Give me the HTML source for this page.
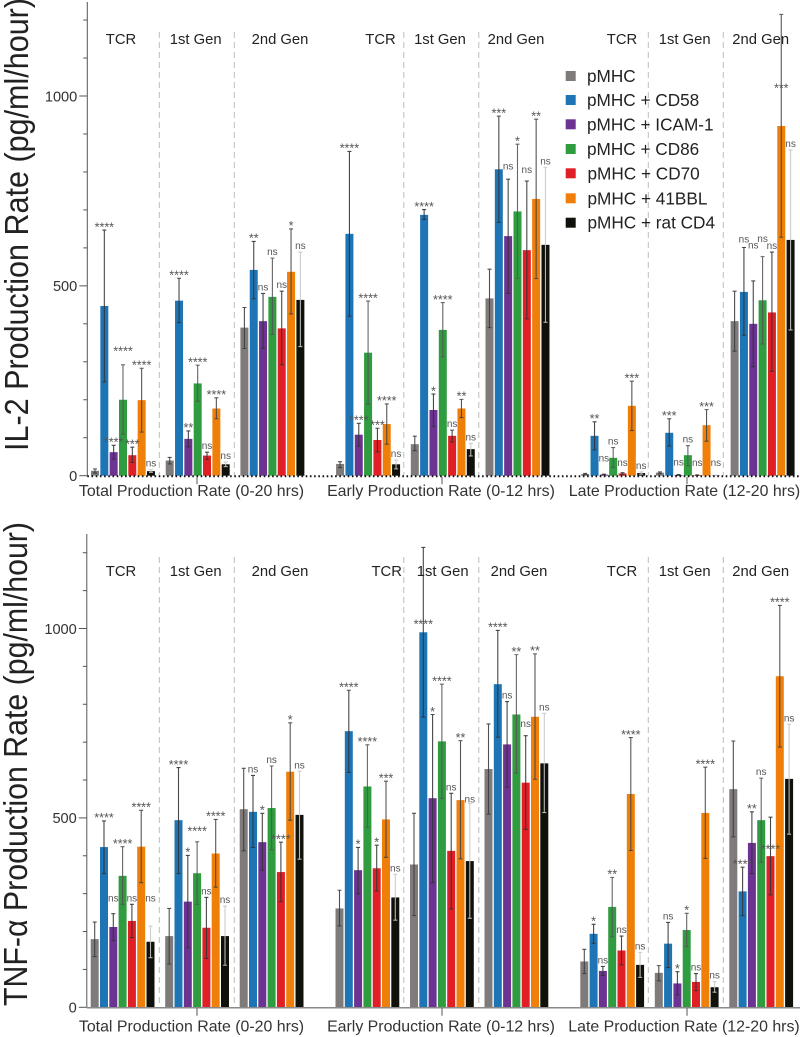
<!DOCTYPE html>
<html lang="en">
<head>
<meta charset="utf-8">
<title>IL-2 and TNF-alpha production rates</title>
<style>
html,body{margin:0;padding:0;background:#fff;}
svg{display:block;font-family:"Liberation Sans",sans-serif;}
.hdr{font-size:14.8px;fill:#222;text-anchor:middle;}
.xl{font-size:15.9px;fill:#333;text-anchor:middle;}
.leg{font-size:17.2px;fill:#222;}
.title{font-size:33px;fill:#222;}
.tick{font-size:14.6px;fill:#333;text-anchor:end;}
.sig{fill:#555;text-anchor:middle;}
</style>
</head>
<body>
<svg id="chart" xmlns="http://www.w3.org/2000/svg" width="800" height="1037" viewBox="0 0 800 1037">
  <rect x="0" y="0" width="800" height="1037" fill="#fff"/>

  <g id="il2-marks"></g>
  <g id="tnf-marks"></g>

  <text class="title" transform="translate(28,451) rotate(-90)" textLength="453" lengthAdjust="spacingAndGlyphs">IL-2 Production Rate (pg/ml/hour)</text>
  <text class="title" transform="translate(27,1006) rotate(-90)" textLength="484" lengthAdjust="spacingAndGlyphs">TNF-α Production Rate (pg/ml/hour)</text>

  <g>
    <text class="hdr" x="121" y="44">TCR</text>
    <text class="hdr" x="195.7" y="44">1st Gen</text>
    <text class="hdr" x="280" y="44">2nd Gen</text>
    <text class="hdr" x="380.5" y="44">TCR</text>
    <text class="hdr" x="440" y="44">1st Gen</text>
    <text class="hdr" x="516" y="44">2nd Gen</text>
    <text class="hdr" x="622" y="44">TCR</text>
    <text class="hdr" x="684.7" y="44">1st Gen</text>
    <text class="hdr" x="760.7" y="44">2nd Gen</text>
  </g>
  <g>
    <text class="hdr" x="121" y="576">TCR</text>
    <text class="hdr" x="195.7" y="576">1st Gen</text>
    <text class="hdr" x="280" y="576">2nd Gen</text>
    <text class="hdr" x="386.7" y="576">TCR</text>
    <text class="hdr" x="442.7" y="576">1st Gen</text>
    <text class="hdr" x="519" y="576">2nd Gen</text>
    <text class="hdr" x="622" y="576">TCR</text>
    <text class="hdr" x="684.7" y="576">1st Gen</text>
    <text class="hdr" x="760.7" y="576">2nd Gen</text>
  </g>

  <g>
    <text class="xl" x="191.5" y="496">Total Production Rate (0-20 hrs)</text>
    <text class="xl" x="441" y="496">Early Production Rate (0-12 hrs)</text>
    <text class="xl" x="684.5" y="496">Late Production Rate (12-20 hrs)</text>
  </g>
  <g>
    <text class="xl" x="191.5" y="1031.5">Total Production Rate (0-20 hrs)</text>
    <text class="xl" x="441" y="1031.5">Early Production Rate (0-12 hrs)</text>
    <text class="xl" x="684" y="1031.5">Late Production Rate (12-20 hrs)</text>
  </g>

  <g>
    <g><rect x="565.7" y="71" width="10" height="10" fill="#7f7b7b"/><text class="leg" x="587" y="82">pMHC</text></g>
    <g><rect x="565.7" y="95" width="10" height="10" fill="#1e75b6"/><text class="leg" x="587" y="106">pMHC + CD58</text></g>
    <g><rect x="565.7" y="119.3" width="10" height="10" fill="#6c3392"/><text class="leg" x="587" y="130.3">pMHC + ICAM-1</text></g>
    <g><rect x="565.7" y="144" width="10" height="10" fill="#2f9c40"/><text class="leg" x="587" y="155">pMHC + CD86</text></g>
    <g><rect x="565.7" y="168.3" width="10" height="10" fill="#e01f26"/><text class="leg" x="587.5" y="179.3">pMHC + CD70</text></g>
    <g><rect x="565.7" y="193.3" width="10" height="10" fill="#f07f09"/><text class="leg" x="587.5" y="204.3">pMHC + 41BBL</text></g>
    <g><rect x="565.7" y="217.7" width="10" height="10" fill="#11110c"/><text class="leg" x="587.5" y="228.7">pMHC + rat CD4</text></g>
  </g>
</svg>

<script>
// Series order inside every group
const seriesNames = ['pMHC','pMHC + CD58','pMHC + ICAM-1','pMHC + CD86','pMHC + CD70','pMHC + 41BBL','pMHC + rat CD4'];
const seriesColors = ['#7f7b7b','#1e75b6','#6c3392','#2f9c40','#e01f26','#f07f09','#11110c'];
const errorColors = ['#3c3c3c','#333','#333','#555','#333','#444','#c8c8c8'];
// Nine groups: Total / Early / Late x TCR, 1st Gen, 2nd Gen
const groupNames = ['Total TCR','Total 1st Gen','Total 2nd Gen','Early TCR','Early 1st Gen','Early 2nd Gen','Late TCR','Late 1st Gen','Late 2nd Gen'];
const majorTickValues = [0,500,1000];
const minorTickValues = [100,200,300,400,600,700,800,900,1100,1200];

const il2Means = [
  [13,447,62,200,54,199,12],
  [40,461,97,243,53,177,30],
  [390,542,407,471,388,537,463],
  [31,637,108,324,94,136,30],
  [83,687,173,384,105,177,70],
  [467,807,631,696,594,729,608],
  [4.5,105,3,47,6,184,7],
  [8,113,2,54,1.5,133,1],
  [407,484,400,462,430,921,621]
];
const il2ErrLow = [
  [7,247,44,109,35,115,9],
  [31,403,76,196,43,150,24],
  [335,466,335,372,292,426,340],
  [21,420,78,188,63,83,18],
  [66,675,129,313,89,153,52],
  [390,667,480,519,413,519,404],
  [3,68,2,22,3,119,4],
  [5,78,1,26,1,91,0.5],
  [328,370,287,347,275,628,384]
];
const il2ErrHigh = [
  [18,647,80,292,75,283,16],
  [48,520,118,291,62,205,36],
  [443,617,480,573,486,650,589],
  [37,854,138,460,125,189,41],
  [104,701,215,456,120,201,85],
  [544,947,781,873,776,939,812],
  [6,142,4,74,8,249,10],
  [10,150,3,79,2,174,1.5],
  [486,601,513,577,589,1215,858]
];
const il2Sig = [
  ['','****','****','****','***','****','ns'],
  ['','****','**','****','ns','****','ns'],
  ['','**','ns','ns','ns','*','ns'],
  ['','****','****','****','***','****','ns'],
  ['','****','*','****','ns','**','ns'],
  ['','***','ns','*','ns','**','ns'],
  ['','**','ns','ns','ns','***','ns'],
  ['','***','ns','ns','ns','***','ns'],
  ['','ns','ns','ns','ns','***','ns']
];
// Extra clearance (in data units) where a printed mark does not sit just above its whisker
const il2SigLift = {'0:3':28,'5:2':18,'5:4':13,'6:2':25,'6:4':9,'7:2':16,'7:4':16,'7:6':16,'8:1':5,'8:2':78,'8:3':31,'8:5':-202};

const tnfMeans = [
  [180,423,212,347,228,424,173],
  [188,494,279,354,210,406,188],
  [523,516,436,526,357,622,508],
  [261,729,362,583,367,496,290],
  [377,990,552,702,413,547,386],
  [629,853,694,773,593,767,644],
  [121,194,96,265,150,563,112],
  [91,168,63,204,67,513,53],
  [576,306,434,494,399,874,603]
];
const tnfErrLow = [
  [134,353,176,272,184,329,131],
  [114,353,157,272,129,317,111],
  [413,422,362,416,279,494,391],
  [215,620,300,475,307,396,230],
  [242,766,329,551,260,392,235],
  [510,713,581,618,470,602,514],
  [89,169,84,186,112,414,79],
  [70,105,33,160,44,393,40],
  [450,242,353,383,297,687,457]
];
const tnfErrHigh = [
  [225,492,247,424,272,520,214],
  [261,633,401,437,290,496,267],
  [631,612,512,637,436,751,623],
  [309,837,422,693,428,597,351],
  [512,1214,773,853,565,704,538],
  [748,995,807,931,717,933,776],
  [153,219,108,343,188,712,145],
  [110,224,94,248,89,634,68],
  [703,370,516,605,502,1061,747]
];
const tnfSig = [
  ['','****','ns','****','ns','****','ns'],
  ['','****','*','****','ns','****','ns'],
  ['','ns','*','ns','****','*','ns'],
  ['','****','*','****','*','***','ns'],
  ['','****','*','****','ns','**','ns'],
  ['','****','ns','**','ns','**','ns'],
  ['','*','ns','**','ns','****','ns'],
  ['','ns','*','*','ns','****','ns'],
  ['','****','**','ns','****','****','ns']
];
const tnfSigLift = {'0:2':25,'0:6':58,'1:3':20,'4:1':-210,'4:6':-5,'5:4':15,'8:4':-92};

const SVG_NS = 'http://www.w3.org/2000/svg';

function drawPanel(rootId, cfg) {
  const root = document.getElementById(rootId);
  const yScale = v => cfg.y0 - v * cfg.pxPerUnit;
  const xScale = (g, s) => cfg.x0 + Math.floor(g / 3) * cfg.setGap + (g % 3) * cfg.groupGap + s * cfg.barStep;

  function add(tag, attrs, parent) {
    const el = document.createElementNS(SVG_NS, tag);
    for (const k in attrs) el.setAttribute(k, attrs[k]);
    (parent || root).appendChild(el);
    return el;
  }

  // Dashed separators between TCR / 1st Gen / 2nd Gen
  [0, 1, 2].forEach(set => {
    [0, 1].forEach(i => {
      const x = 159.3 + set * 244.5 + i * 75;
      const sep = add('line', {x1: x, x2: x, y1: cfg.sepTop, y2: cfg.y0, stroke: '#bdbdbd', 'stroke-width': 1, 'stroke-dasharray': '6 4'});
      
      
    });
  });

  // Bars
  cfg.means.forEach((groupVals, g) => {
    groupVals.forEach((v, s) => {
      const cx = xScale(g, s);
      const bar = add('rect', {x: cx - 4, y: yScale(v), width: 8, height: Math.max(0, cfg.y0 - yScale(v)), fill: seriesColors[s]});
      
      
      const tip = add('title', {}, bar);
      tip.textContent = groupNames[g] + ' / ' + seriesNames[s] + ': ' + v;
    });
  });

  // Error bars and significance marks
  cfg.means.forEach((groupVals, g) => {
    groupVals.forEach((v, s) => {
      const cx = xScale(g, s);
      const yLow = yScale(cfg.low[g][s]);
      const yHigh = yScale(cfg.high[g][s]);
      const err = add('path', {
        d: 'M' + (cx - 2) + ' ' + yHigh + 'H' + (cx + 2) + 'M' + cx + ' ' + yHigh + 'V' + yLow + 'M' + (cx - 2) + ' ' + yLow + 'H' + (cx + 2),
        fill: 'none', stroke: errorColors[s], 'stroke-width': 1.1, 'stroke-opacity': 0.9
      });
      
      

      const mark = cfg.sig[g][s];
      if (mark) {
        const lift = cfg.lift[g + ':' + s] || 0;
        const centre = yScale(cfg.high[g][s] + lift) - 6;
        const isNs = mark === 'ns';
        const label = add('text', {class: 'sig', x: cx, y: centre + (isNs ? 3 : 7.3), 'font-size': isNs ? 10 : 12.5});
        
        
        label.textContent = mark;
      }
    });
  });

  // Y axis
  const axis = add('line', {x1: cfg.axisX, x2: cfg.axisX, y1: cfg.axisTop, y2: cfg.y0, stroke: '#555', 'stroke-width': 1});
  
  

  majorTickValues.forEach(v => {
    const t = add('line', {x1: cfg.axisX - 8, x2: cfg.axisX, y1: yScale(v), y2: yScale(v), stroke: '#555', 'stroke-width': 1});
    
    
    const l = add('text', {class: 'tick', x: cfg.axisX - 10, y: yScale(v) + 5.3});
    
    
    l.textContent = v;
  });
  minorTickValues.forEach(v => {
    const t = add('line', {x1: cfg.axisX - 4, x2: cfg.axisX, y1: yScale(v), y2: yScale(v), stroke: '#555', 'stroke-width': 1});
    
    
  });

  // X axis
  const base = add('line', Object.assign({x1: cfg.axisX, x2: 800, y1: cfg.y0 + 0.5, y2: cfg.y0 + 0.5}, cfg.baseStyle));
  
  

  [0, 1, 2].forEach(set => {
    const x = 197 + set * 245;
    const t = add('line', {x1: x, x2: x, y1: cfg.y0 + 1, y2: cfg.y0 + 8.5, stroke: '#555', 'stroke-width': 1});
    
    
  });
}

drawPanel('il2-marks', {
  means: il2Means, low: il2ErrLow, high: il2ErrHigh, sig: il2Sig, lift: il2SigLift,
  y0: 475.7, pxPerUnit: 0.3797, x0: 95, setGap: 245.1, groupGap: 74.7, barStep: 9.33,
  axisX: 87.3, axisTop: 2, sepTop: 32,
  baseStyle: {stroke: '#111', 'stroke-width': 2, 'stroke-dasharray': '1.6 2.6'}
});
drawPanel('tnf-marks', {
  means: tnfMeans, low: tnfErrLow, high: tnfErrHigh, sig: tnfSig, lift: tnfSigLift,
  y0: 1007.3, pxPerUnit: 0.3788, x0: 94.7, setGap: 244.8, groupGap: 74.5, barStep: 9.3,
  axisX: 86.8, axisTop: 534, sepTop: 557,
  baseStyle: {stroke: '#8a8a8a', 'stroke-width': 1.5}
});
</script>
</body>
</html>
